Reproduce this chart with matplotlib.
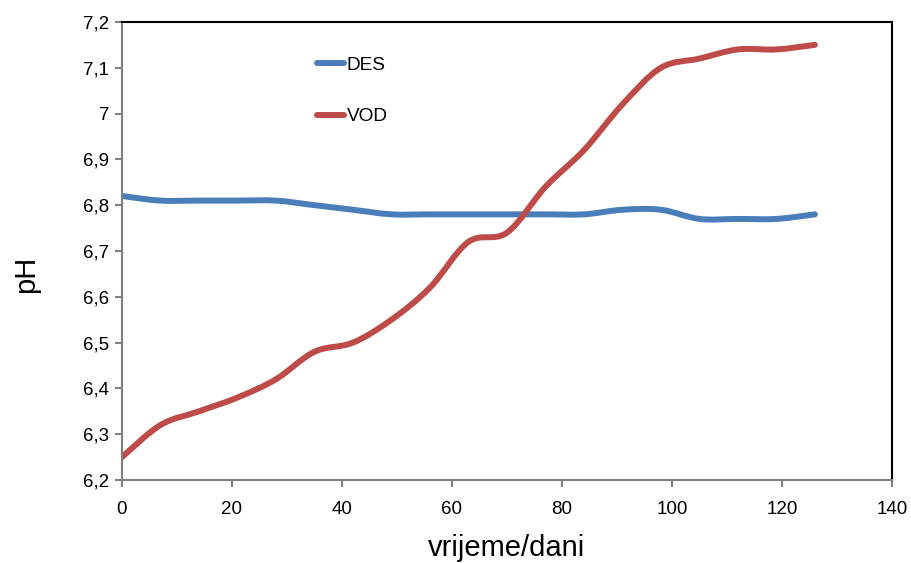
import matplotlib
matplotlib.use("Agg")
import matplotlib.pyplot as plt
from matplotlib.path import Path
from matplotlib.patches import PathPatch
from matplotlib.lines import Line2D
from matplotlib.ticker import FuncFormatter, MultipleLocator
import numpy as np

days = [0, 7, 14, 21, 28, 35, 42, 49, 56, 63, 70, 77, 84, 91, 98, 105, 112, 119, 126]
des = [6.82, 6.81, 6.81, 6.81, 6.81, 6.80, 6.79, 6.78, 6.78, 6.78, 6.78, 6.78, 6.78,
       6.79, 6.79, 6.77, 6.77, 6.77, 6.78]
vod = [6.25, 6.32, 6.35, 6.38, 6.42, 6.48, 6.50, 6.55, 6.62, 6.72, 6.74, 6.84, 6.92,
       7.02, 7.10, 7.12, 7.14, 7.14, 7.15]
series_names = ["DES", "VOD"]
colors = ["#4A7EBB", "#BE4B48"]

plt.rcParams['font.family'] = ['Liberation Sans', 'DejaVu Sans']

fig = plt.figure(figsize=(9.11, 5.63), dpi=100)
ax = fig.add_axes([0.1339, 0.1474, 0.979 - 0.1339, 0.961 - 0.1474])


def smooth_path(x, y, t=1.0 / 6.0):
    x = np.asarray(x, float)
    y = np.asarray(y, float)
    verts = [(x[0], y[0])]
    codes = [Path.MOVETO]
    n = len(x)
    for i in range(n - 1):
        x0, y0 = (x[i - 1], y[i - 1]) if i > 0 else (x[i], y[i])
        x3, y3 = (x[i + 2], y[i + 2]) if i + 2 < n else (x[i + 1], y[i + 1])
        c1 = (x[i] + (x[i + 1] - x0) * t, y[i] + (y[i + 1] - y0) * t)
        c2 = (x[i + 1] - (x3 - x[i]) * t, y[i + 1] - (y3 - y[i]) * t)
        verts += [c1, c2, (x[i + 1], y[i + 1])]
        codes += [Path.CURVE4] * 3
    return Path(verts, codes)


for vals, col in zip([des, vod], colors):
    patch = PathPatch(smooth_path(days, vals), facecolor='none', edgecolor=col,
                      lw=4.3, capstyle='round', joinstyle='round')
    ax.add_patch(patch)

ax.set_xlim(0, 140)
ax.set_ylim(6.2, 7.2)
ax.xaxis.set_major_locator(MultipleLocator(20))
ax.yaxis.set_major_locator(MultipleLocator(0.1))
fmt = FuncFormatter(lambda v, p: f"{round(v, 1):g}".replace('.', ','))
ax.yaxis.set_major_formatter(fmt)
ax.xaxis.set_major_formatter(FuncFormatter(lambda v, p: f"{v:g}"))

for s in ['left', 'bottom']:
    ax.spines[s].set_color('#808080')
    ax.spines[s].set_linewidth(1.5)
for s in ['top', 'right']:
    ax.spines[s].set_color('black')
    ax.spines[s].set_linewidth(1.5)

ax.tick_params(axis='both', direction='out', length=5, width=1.5, color='#808080',
               labelsize=13.5, labelcolor='black')
ax.tick_params(axis='y', pad=4)
ax.tick_params(axis='x', pad=10)

ax.set_xlabel("vrijeme/dani", fontsize=21)
ax.xaxis.set_label_coords(0.5, -0.117)
ax.set_ylabel("pH", fontsize=21)
ax.yaxis.set_label_coords(-0.106, 0.448)

handles = [Line2D([0], [0], color=c, lw=4.3, solid_capstyle='round') for c in colors]
ax.legend(handles, series_names, loc='upper left', bbox_to_anchor=(0.253, 0.925),
          frameon=False, fontsize=13.7, handlelength=1.45, handletextpad=0.12,
          labelspacing=1.8, borderpad=0, borderaxespad=0)

fig.savefig("out.png", dpi=100)
